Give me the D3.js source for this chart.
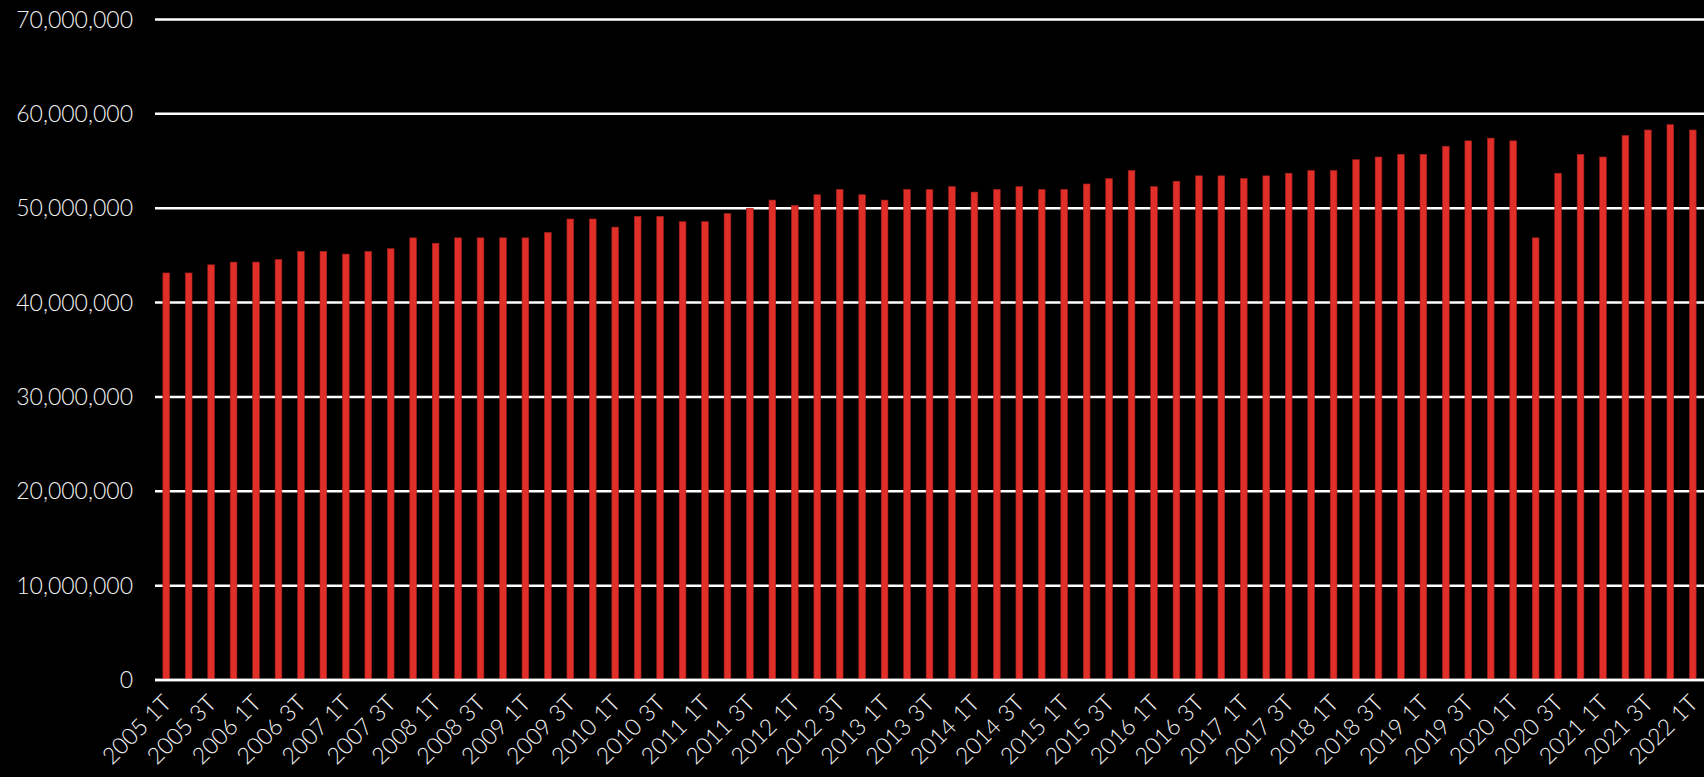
<!DOCTYPE html>
<html>
  <head>
    <meta charset="utf-8">
    <title>Trimestral</title>
    <style type="text/css">
      body {
        margin: 0;
        background: #000;
        overflow: hidden;
      }
      text {
        font-family: 'Lato', 'Open Sans', sans-serif;
        font-weight: 300;
        fill: #f2f2f2;
      }
    </style>
    <script src="https://d3js.org/d3.v7.min.js"></script>
  </head>
  <body>
    <svg width="1704" height="777"></svg>
    <script>
      // categories: quarters from 2005 1T to 2022 1T
      const years = d3.range(2005, 2023);
      const quarters = ['1T', '2T', '3T', '4T'];
      const categories = [];
      years.forEach(y => quarters.forEach(q => {
        if (y < 2022 || q === '1T') categories.push(`${y} ${q}`);
      }));

      const values = [
        43140000, 43140000, 44000000, 44290000, 44290000, 44570000, 45430000, 45430000,
        45140000, 45430000, 45710000, 46860000, 46290000, 46860000, 46860000, 46860000,
        46860000, 47430000, 48860000, 48860000, 48000000, 49140000, 49140000, 48570000,
        48570000, 49430000, 50000000, 50860000, 50290000, 51430000, 52000000, 51430000,
        50860000, 52000000, 52000000, 52290000, 51710000, 52000000, 52290000, 52000000,
        52000000, 52570000, 53140000, 54000000, 52290000, 52860000, 53430000, 53430000,
        53140000, 53430000, 53710000, 54000000, 54000000, 55140000, 55430000, 55710000,
        55710000, 56570000, 57140000, 57430000, 57140000, 46860000, 53710000, 55710000,
        55430000, 57710000, 58290000, 58860000, 58290000
      ];

      const yTicks = [0, 10000000, 20000000, 30000000, 40000000, 50000000, 60000000, 70000000];

      const svg = d3.select('svg');
      const width = +svg.attr('width');

      const margin = { left: 155, right: 0, top: 19.5, bottom: 97 };
      const zeroY = 680;

      const xScale = d3.scaleBand()
        .domain(categories)
        .range([margin.left, width - margin.right])
        .paddingInner(0.7)
        .paddingOuter(0.35);

      const yScale = d3.scaleLinear()
        .domain([0, 70000000])
        .range([zeroY, margin.top]);

      const fmt = d3.format(',');

      // grid lines
      svg.append('g')
        .selectAll('line')
        .data(yTicks)
        .enter().append('line')
          .attr('x1', margin.left)
          .attr('x2', width - margin.right)
          .attr('y1', d => yScale(d))
          .attr('y2', d => yScale(d))
          .attr('stroke', '#ffffff')
          .attr('stroke-width', 2.5);

      // y labels
      svg.append('g')
        .selectAll('text')
        .data(yTicks)
        .enter().append('text')
          .attr('x', 133)
          .attr('y', d => yScale(d))
          .attr('dy', '0.35em')
          .attr('text-anchor', 'end')
          .style('font-size', '23px')
          .text(d => fmt(d));

      // bars
      svg.append('g')
        .selectAll('rect')
        .data(values)
        .enter().append('rect')
          .attr('x', (d, i) => xScale(categories[i]))
          .attr('y', d => yScale(d))
          .attr('width', xScale.bandwidth())
          .attr('height', d => zeroY - yScale(d))
          .attr('fill', '#e02e29')
          .attr('stroke', '#9e1f1c')
          .attr('stroke-width', 0.6);

      // redraw zero line over bars
      svg.append('line')
        .attr('x1', margin.left)
        .attr('x2', width - margin.right)
        .attr('y1', zeroY)
        .attr('y2', zeroY)
        .attr('stroke', '#ffffff')
        .attr('stroke-width', 2.5);

      // x labels, every second quarter
      svg.append('g')
        .selectAll('text')
        .data(categories.filter((c, i) => i % 2 === 0))
        .enter().append('text')
          .attr('text-anchor', 'end')
          .style('font-size', '23px')
          .attr('transform', d => {
            const x = xScale(d) + xScale.bandwidth() / 2 + 1;
            return `translate(${x},${zeroY + 19}) rotate(-45)`;
          })
          .attr('dy', '0.35em')
          .text(d => d);
    </script>
  </body>
</html>
